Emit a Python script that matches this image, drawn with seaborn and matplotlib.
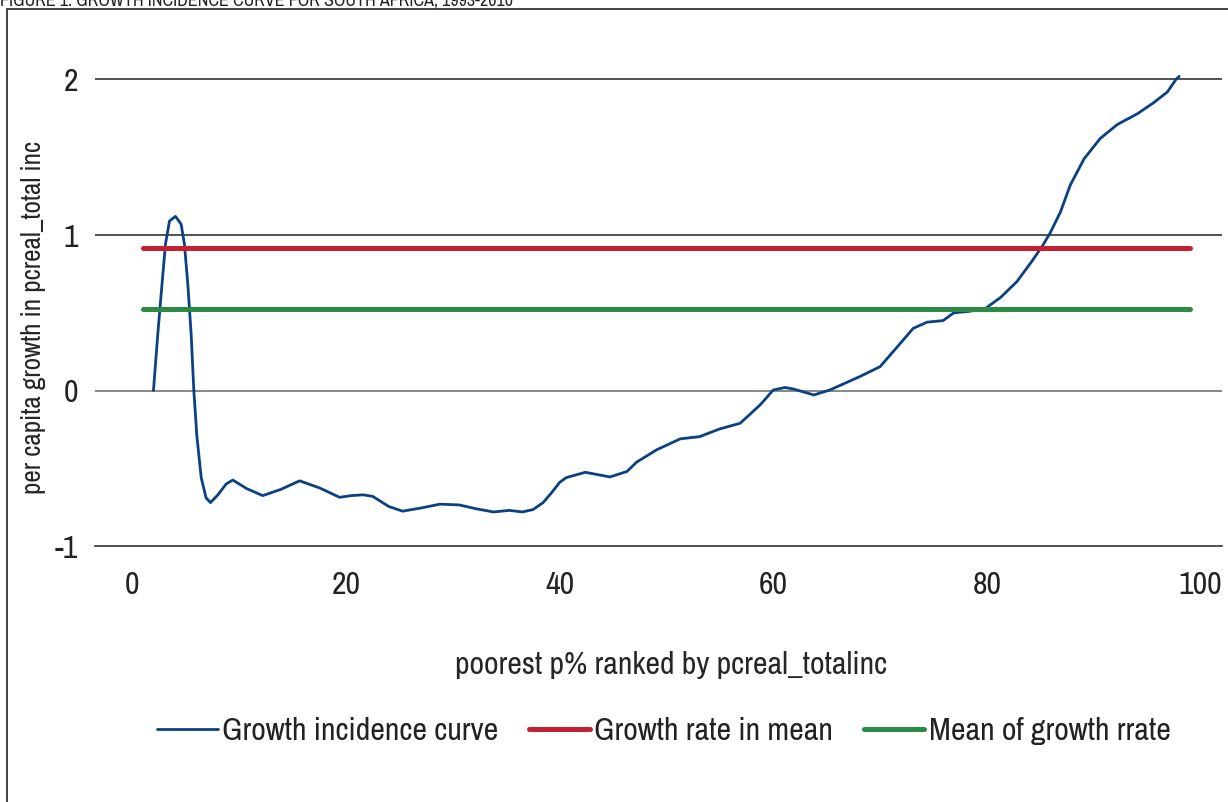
import matplotlib
matplotlib.use("Agg")
import matplotlib.pyplot as plt
import seaborn as sns
import pandas as pd
from matplotlib.patches import Rectangle

# growth incidence curve
pct = [1.97, 2.37, 2.69, 3.09, 3.47, 4.03, 4.56, 4.87, 5.19, 5.5, 5.75, 6.03, 6.44,
       6.9, 7.31, 8.0, 8.78, 9.4, 10.7, 12.2, 13.9, 15.65, 17.5, 19.4, 20.5, 21.6,
       22.5, 24.0, 25.3, 27.0, 28.8, 30.6, 32.2, 33.8, 35.3, 36.5, 37.5, 38.45, 39.2,
       40.0, 40.6, 42.4, 44.7, 46.3, 47.2, 49.1, 51.3, 53.1, 55.0, 56.9, 58.8, 60.0,
       61.1, 61.9, 62.5, 63.8, 65.3, 68.1, 70.0, 71.6, 73.1, 74.4, 75.9, 76.9, 78.4,
       79.9, 81.3, 82.8, 84.2, 85.2, 85.9, 86.9, 87.8, 89.1, 90.6, 92.2, 94.1, 95.6,
       96.9, 97.7, 98.0]
growth = [0.0, 0.36, 0.62, 0.94, 1.09, 1.12, 1.07, 0.94, 0.68, 0.36, 0.0, -0.29,
          -0.56, -0.69, -0.72, -0.67, -0.60, -0.575, -0.63, -0.675, -0.635, -0.58,
          -0.625, -0.686, -0.675, -0.67, -0.68, -0.745, -0.775, -0.755, -0.73, -0.735,
          -0.76, -0.78, -0.77, -0.78, -0.765, -0.72, -0.66, -0.59, -0.56, -0.525,
          -0.555, -0.52, -0.46, -0.38, -0.31, -0.296, -0.246, -0.21, -0.09, 0.004,
          0.02, 0.01, -0.002, -0.028, 0.004, 0.09, 0.154, 0.28, 0.40, 0.44, 0.45,
          0.50, 0.51, 0.53, 0.60, 0.70, 0.83, 0.93, 1.01, 1.15, 1.32, 1.49, 1.62,
          1.71, 1.78, 1.85, 1.92, 2.0, 2.02]

mean_x = [1, 99]
growth_in_mean = 0.915
mean_of_growth = 0.525

yticks = [-1, 0, 1, 2]
xticks = [0, 20, 40, 60, 80, 100]

sns.set_style("white")
plt.rcParams['font.family'] = ['Archivo Narrow', 'DejaVu Sans']
plt.rcParams['text.color'] = '#222222'

blue = '#0a4180'
red = '#c42030'
green = '#2b8a44'

fig = plt.figure(figsize=(12.28, 8.02), dpi=100)
ax = fig.add_axes([0.0774, 0.319, 0.9176, 0.611])

gic = pd.DataFrame({'p': pct, 'g': growth})
sns.lineplot(data=gic, x='p', y='g', ax=ax, color=blue, lw=2.0,
             label='Growth incidence curve')
sns.lineplot(x=mean_x, y=[growth_in_mean] * 2, ax=ax, color=red, lw=3.6,
             label='Growth rate in mean')
sns.lineplot(x=mean_x, y=[mean_of_growth] * 2, ax=ax, color=green, lw=3.6,
             label='Mean of growth rrate')

for yv in [1, 2]:
    ax.axhline(yv, color='#333333', lw=1.2, zorder=0)
ax.axhline(0, color='#888888', lw=1.4, zorder=0)

ax.set_xlim(-3.5, 102)
ax.set_ylim(-1, 2.15)
ax.set_xticks(xticks)
ax.set_yticks(yticks)
ax.set_yticklabels([str(t) for t in yticks])
for s in ['top', 'right', 'left']:
    ax.spines[s].set_visible(False)
ax.spines['bottom'].set_color('#333333')
ax.spines['bottom'].set_linewidth(1.2)
ax.tick_params(axis='x', length=10, width=1.2, color='#777777', labelsize=23,
               labelcolor='#222222', pad=8)
ax.tick_params(axis='y', length=0, labelsize=23, labelcolor='#222222', pad=12)

ax.set_xlabel('poorest p% ranked by pcreal_totalinc', fontsize=23, va='center')
ax.xaxis.set_label_coords(0.511, -0.243)
ax.set_ylabel('per capita growth in pcreal_total inc', fontsize=19.5, va='center')
ax.yaxis.set_label_coords(-0.055, 0.466)

ax.get_legend().remove()
handles, labels = ax.get_legend_handles_labels()
fig.legend(handles, labels, loc='center', bbox_to_anchor=(664 / 1228, 0.0885),
           ncol=3, frameon=False, fontsize=23, handlelength=1.9,
           handletextpad=0.15, columnspacing=0.95)

# frame around the figure panel and the clipped figure caption
fig.patches.append(Rectangle((7 / 1228, -0.05), 1.2, 1.05 - 9 / 802,
                             transform=fig.transFigure, fill=False,
                             edgecolor='#333333', lw=1.3))
fig.text(0.0, 1 - 5 / 802, 'FIGURE 1. GROWTH INCIDENCE CURVE FOR SOUTH AFRICA, 1993-2010',
         fontsize=13, va='baseline', ha='left', color='#222222')

fig.savefig('out.png', dpi=100)
